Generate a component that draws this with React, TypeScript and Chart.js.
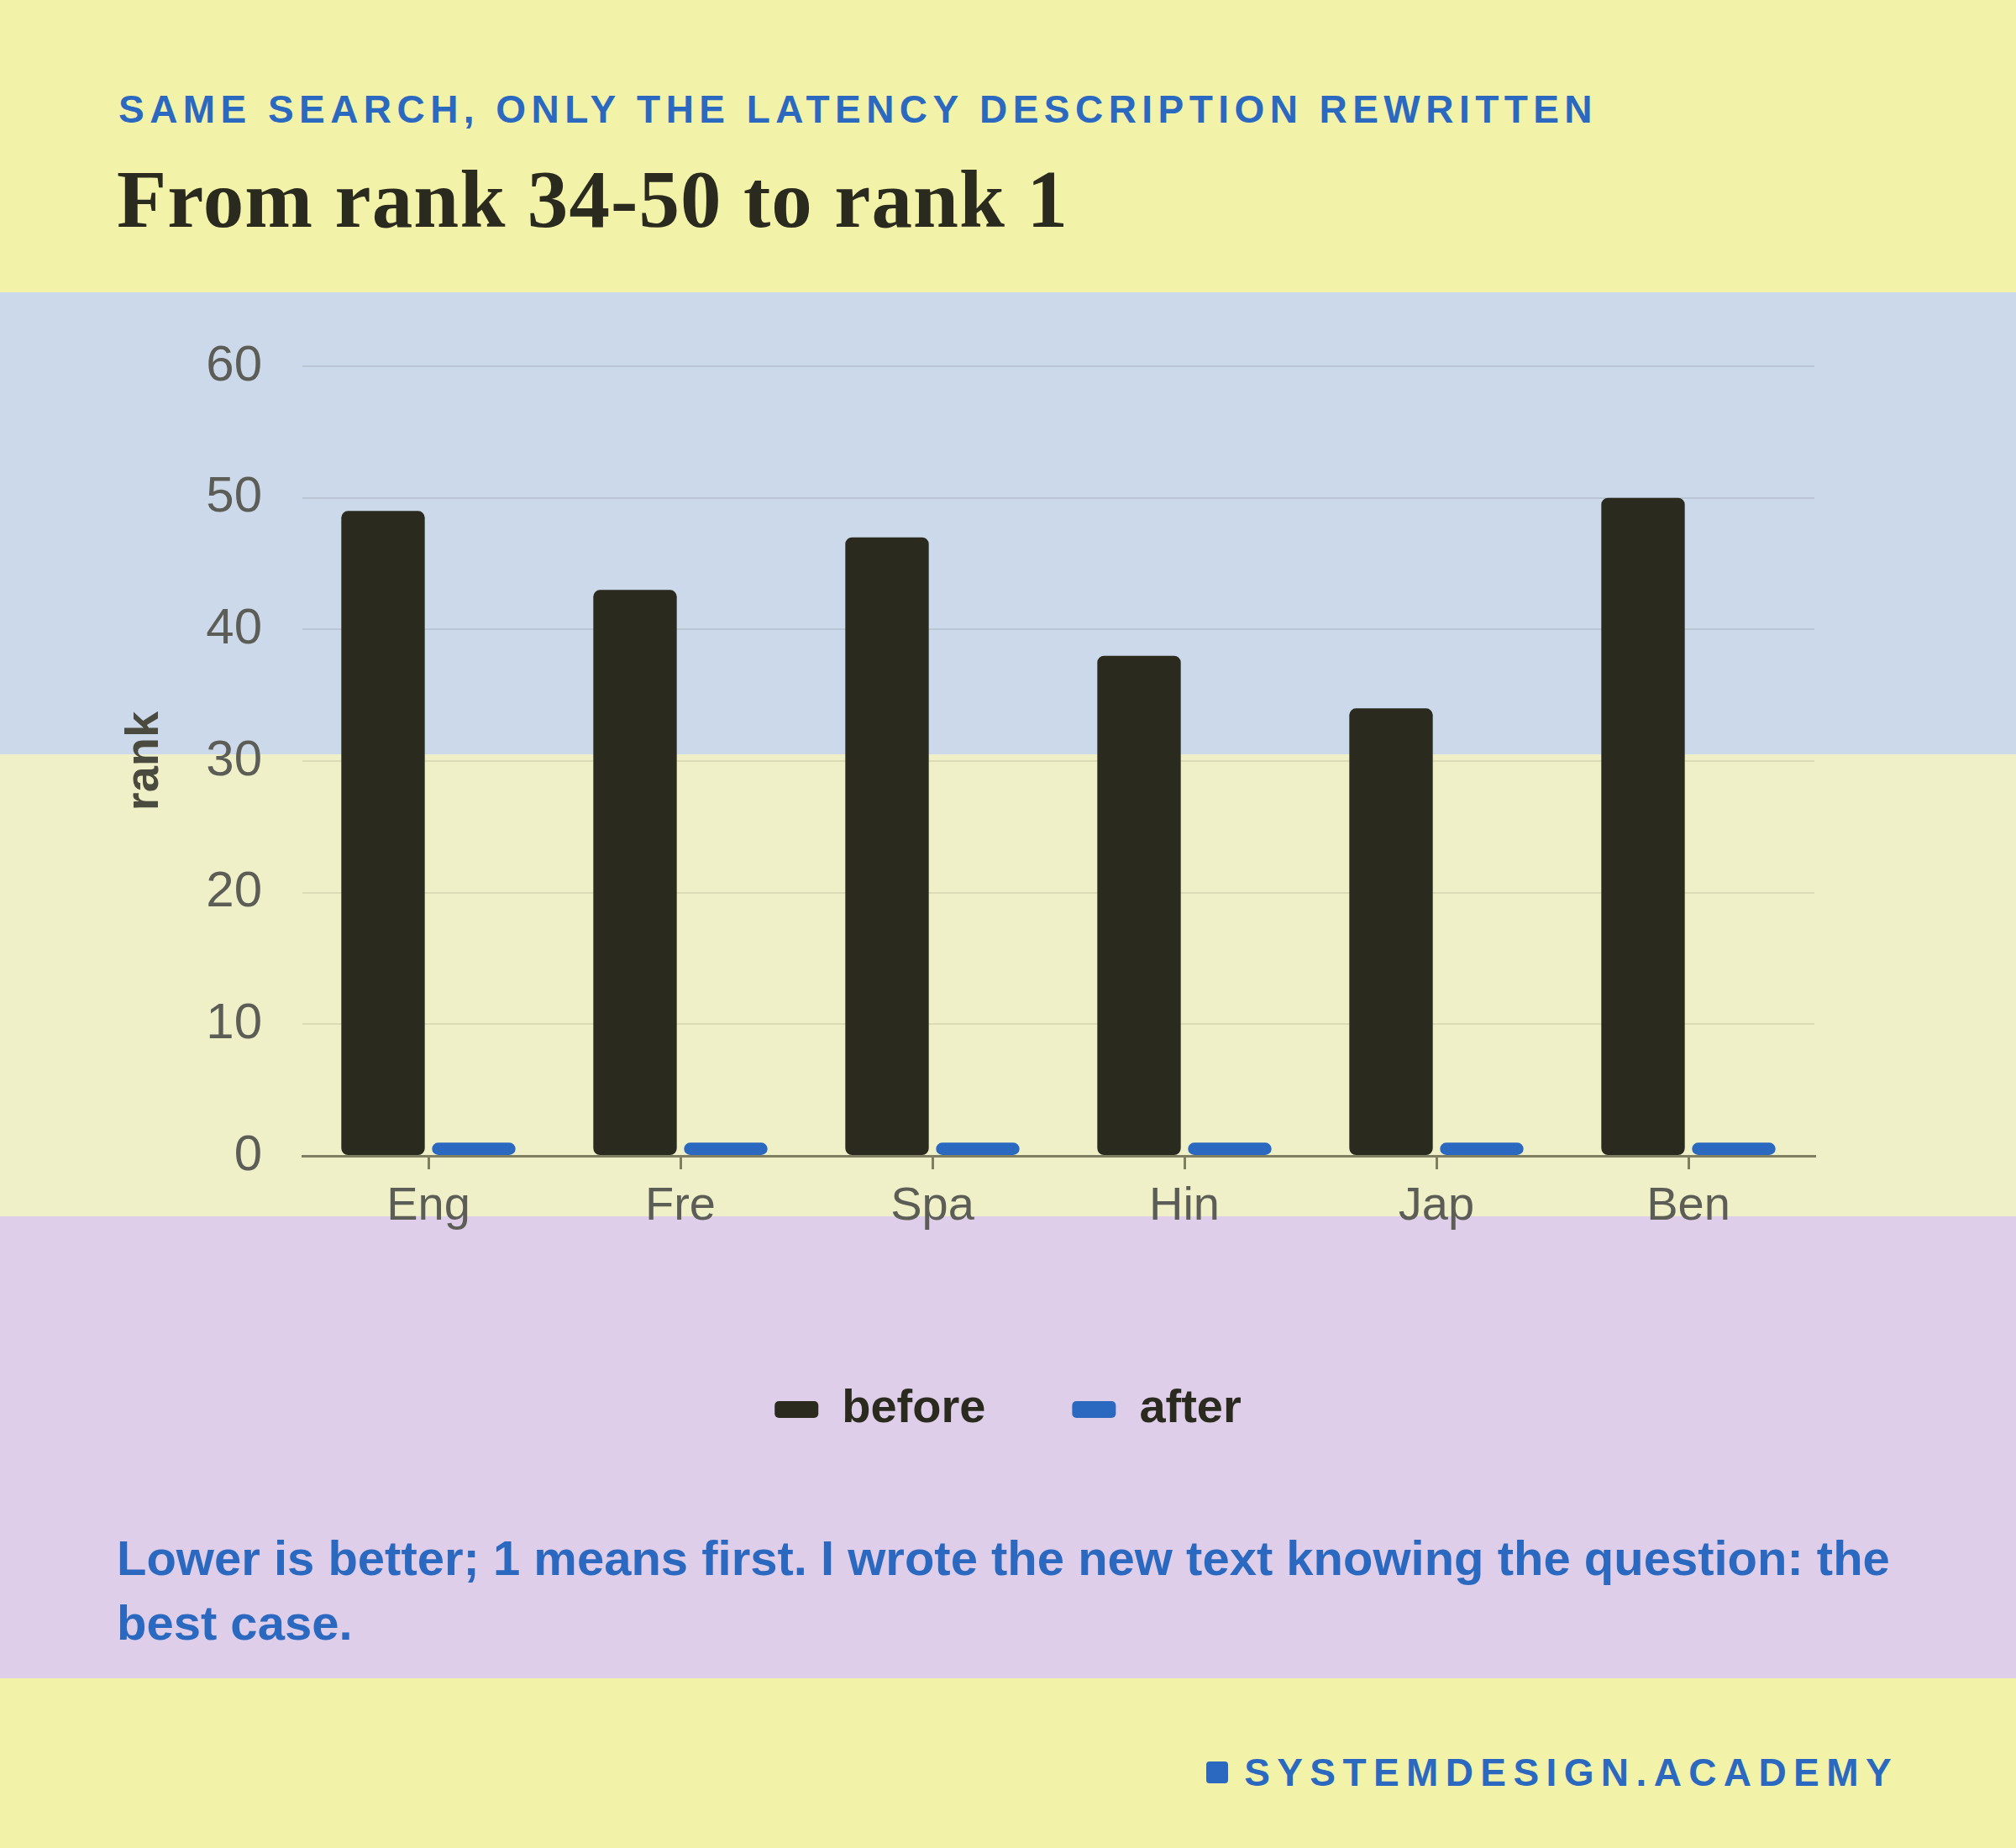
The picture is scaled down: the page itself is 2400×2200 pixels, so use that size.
import React, { useEffect, useRef } from 'react';
import { Chart, registerables } from 'chart.js';

Chart.register(...registerables);

// ---- data ----
const categories = ['Eng', 'Fre', 'Spa', 'Hin', 'Jap', 'Ben'];
const beforeRanks = [49, 43, 47, 38, 34, 50];
const afterRanks = [1, 1, 1, 1, 1, 1];
const seriesNames = ['before', 'after'];
const yMin = 0;
const yMax = 60;
const yStep = 10;
const axisTitle = 'rank';
const eyebrow = 'SAME SEARCH, ONLY THE LATENCY DESCRIPTION REWRITTEN';
const headline = 'From rank 34-50 to rank 1';
const caption =
  'Lower is better; 1 means first. I wrote the new text knowing the question: the best case.';
const footerText = 'SYSTEMDESIGN.ACADEMY';

// ---- style ----
const SANS = "'Liberation Sans', Arial, Helvetica, sans-serif";
const SERIF = "'Liberation Serif', 'Times New Roman', serif";
const INK = '#2a2a1f';
const BLUE = '#2b69c1';
const YELLOW = '#f2f2a8';
const BAND_BLUE = '#ccd9ea';
const BAND_YELLOW = '#f0f0c8';
const BAND_PURPLE = '#dfcee9';
const AXIS = '#7f7f63';
const TICK = '#5c5d56';

export default function App() {
  const canvasRef = useRef<HTMLCanvasElement | null>(null);

  useEffect(() => {
    const canvas = canvasRef.current;
    if (!canvas) return;
    const chart = new Chart(canvas, {
      type: 'bar',
      data: {
        labels: categories,
        datasets: [
          {
            label: seriesNames[0],
            data: beforeRanks,
            backgroundColor: INK,
            borderWidth: 0,
            borderRadius: 8,
            borderSkipped: false,
            categoryPercentage: 0.72,
            barPercentage: 0.92,
            yAxisID: 'y',
          },
          {
            label: seriesNames[1],
            data: afterRanks,
            backgroundColor: BLUE,
            borderWidth: 0,
            borderRadius: 8,
            borderSkipped: false,
            categoryPercentage: 0.72,
            barPercentage: 0.92,
            yAxisID: 'y',
          },
        ],
      },
      options: {
        responsive: false,
        animation: false,
        devicePixelRatio: 1,
        layout: { padding: { top: 88, bottom: 282, left: 0, right: 0 } },
        plugins: {
          legend: {
            position: 'bottom',
            align: 'center',
            labels: {
              font: { family: SANS, size: 56, weight: 'bold' },
              color: INK,
              boxWidth: 52,
              boxHeight: 20,
              padding: 103,
              useBorderRadius: true,
              borderRadius: 5,
            },
          },
          tooltip: { enabled: false },
        },
        scales: {
          x: {
            grid: {
              display: true,
              drawOnChartArea: false,
              offset: false,
              drawTicks: true,
              tickLength: 16,
              color: AXIS,
              lineWidth: 3,
            },
            border: { display: true, color: AXIS, width: 3 },
            ticks: { font: { family: SANS, size: 56 }, color: TICK, padding: 11 },
            afterFit: (s: any) => {
              s.height = 171;
            },
          },
          y: {
            min: yMin,
            max: yMax,
            ticks: { stepSize: yStep, font: { family: SANS, size: 60 }, color: TICK, padding: 48 },
            grid: { color: 'rgba(42,42,31,0.1)', lineWidth: 2, drawTicks: false },
            border: { display: false },
            title: {
              display: true,
              text: axisTitle,
              font: { family: SANS, size: 56, weight: 'bold' },
              color: '#4a4a3e',
              padding: { top: 139, bottom: 0 },
            },
            afterFit: (s: any) => {
              s.width = 360;
            },
          },
          rightPad: {
            type: 'linear',
            axis: 'y',
            position: 'right',
            display: true,
            grid: { display: false },
            ticks: { display: false },
            border: { display: false },
            afterFit: (s: any) => {
              s.width = 240;
            },
          },
        },
      } as any,
    });
    return () => chart.destroy();
  }, []);

  return (
    <div
      style={{
        position: 'absolute',
        left: 0,
        top: 0,
        width: 2400,
        height: 2200,
        background: YELLOW,
        overflow: 'hidden',
        fontFamily: SANS,
      }}
    >
      <div style={{ position: 'absolute', left: 0, top: 348, width: 2400, height: 550, background: BAND_BLUE }} />
      <div style={{ position: 'absolute', left: 0, top: 898, width: 2400, height: 550, background: BAND_YELLOW }} />
      <div style={{ position: 'absolute', left: 0, top: 1448, width: 2400, height: 550, background: BAND_PURPLE }} />

      <canvas
        ref={canvasRef}
        width={2400}
        height={1650}
        style={{ position: 'absolute', left: 0, top: 348, width: 2400, height: 1650 }}
      />

      <div
        style={{
          position: 'absolute',
          left: 141,
          top: 107,
          fontSize: 46,
          lineHeight: '46px',
          fontWeight: 700,
          letterSpacing: 6.45,
          color: BLUE,
          whiteSpace: 'nowrap',
        }}
      >
        {eyebrow}
      </div>

      <div
        style={{
          position: 'absolute',
          left: 139,
          top: 189,
          fontFamily: SERIF,
          fontSize: 97,
          lineHeight: '97px',
          fontWeight: 700,
          letterSpacing: 1.1,
          color: INK,
          whiteSpace: 'nowrap',
        }}
      >
        {headline}
      </div>

      <div
        style={{
          position: 'absolute',
          left: 139,
          top: 1816,
          width: 2180,
          fontSize: 58,
          lineHeight: '77px',
          fontWeight: 700,
          color: BLUE,
        }}
      >
        {caption}
      </div>

      <div
        style={{
          position: 'absolute',
          right: 140,
          top: 2087,
          height: 46,
          display: 'flex',
          alignItems: 'center',
          gap: 19,
        }}
      >
        <div style={{ width: 26, height: 26, borderRadius: 4, background: BLUE }} />
        <div
          style={{
            fontSize: 46,
            lineHeight: '46px',
            fontWeight: 700,
            letterSpacing: 8.4,
            color: BLUE,
            whiteSpace: 'nowrap',
          }}
        >
          {footerText}
        </div>
      </div>
    </div>
  );
}
